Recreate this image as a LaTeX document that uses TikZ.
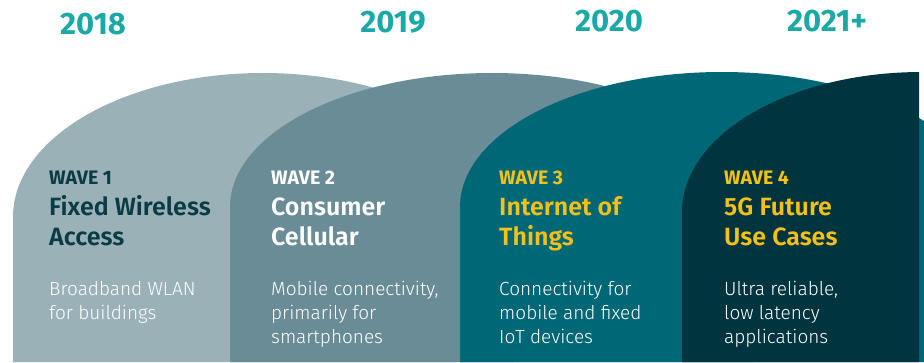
\documentclass[tikz,border=0pt]{standalone}
\usepackage{fontspec}
\setmainfont{Fira Sans}
\newfontfamily\firalight{Fira Sans Light}
\newfontfamily\firasemi{Fira Sans SemiBold}
\usetikzlibrary{positioning}
\usepackage{xcolor}
\definecolor{yearteal}{HTML}{1AA9A6}
\definecolor{waveone}{HTML}{9AB1B8}
\definecolor{wavetwo}{HTML}{6A8C97}
\definecolor{wavethree}{HTML}{006777}
\definecolor{wavefour}{HTML}{00353F}
\definecolor{darkink}{HTML}{0B3B44}
\definecolor{wavegold}{HTML}{F6C01A}

\begin{document}
\begin{tikzpicture}[x=1pt,y=1pt,
  year/.style={anchor=base, text=yearteal, font=\bfseries\fontsize{31}{32}\selectfont},
  wavelabel/.style={anchor=base west, inner sep=0pt, font=\bfseries\fontsize{19.5}{20}\selectfont},
  wavetitle/.style={anchor=base west, inner sep=0pt, align=left, font=\firasemi\fontsize{25}{30}\selectfont},
  wavetext/.style={anchor=base west, inner sep=0pt, align=left, text=white, font=\firalight\fontsize{19}{24}\selectfont}]
\useasboundingbox (0,0) rectangle (924,362);

% waves
\fill[waveone] (13,0) -- (13,145) arc [start angle=180, end angle=0, x radius=250, y radius=144] -- (513,0) -- cycle;
\fill[wavetwo] (230,0) -- (230,155) arc [start angle=180, end angle=0, x radius=262, y radius=134] -- (754,0) -- cycle;
\fill[wavethree] (460,0) -- (460,155) arc [start angle=180, end angle=0, x radius=262, y radius=135] -- (984,0) -- cycle;
\begin{scope}
\clip (0,0) rectangle (919,362);
\fill[wavefour] (682,0) -- (682,150) arc [start angle=180, end angle=0, x radius=240, y radius=140] -- (1162,0) -- cycle;
\end{scope}

% years
\node[year] (y2018) at (93,327) {2018};
\node[year] (y2019) at (393,329) {2019};
\node[year] (y2020) at (609,330) {2020};
\node[year] (y2021) at (827,330) {2021+};

% wave 1 (multi-line nodes sit on their last line)
\node[wavelabel, text=darkink] (w1label) at (49,177) {WAVE 1};
\node[wavetitle, text=darkink] (w1title) at (49,117) {Fixed Wireless\\Access};
\node[wavetext] (w1text) at (49,43) {Broadband WLAN\\for buildings};

% wave 2
\node[wavelabel, text=white] (w2label) at (271,177) {WAVE 2};
\node[wavetitle, text=white] (w2title) at (271,117) {Consumer\\Cellular};
\node[wavetext] (w2text) at (271,19) {Mobile connectivity,\\primarily for\\smartphones};

% wave 3
\node[wavelabel, text=wavegold] (w3label) at (499,177) {WAVE 3};
\node[wavetitle, text=wavegold] (w3title) at (499,117) {Internet of\\Things};
\node[wavetext] (w3text) at (499,19) {Connectivity for\\mobile and fixed\\IoT devices};

% wave 4
\node[wavelabel, text=wavegold] (w4label) at (724,177) {WAVE 4};
\node[wavetitle, text=wavegold] (w4title) at (724,117) {5G Future\\Use Cases};
\node[wavetext] (w4text) at (724,19) {Ultra reliable,\\low latency\\applications};

\end{tikzpicture}
\end{document}
